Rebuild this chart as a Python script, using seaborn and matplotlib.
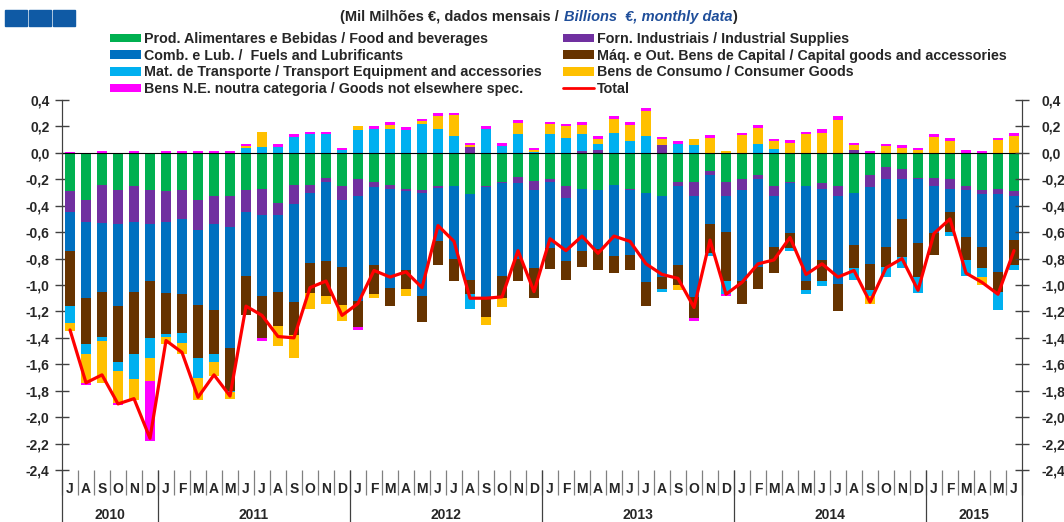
import numpy as np
import matplotlib.pyplot as plt
import seaborn as sns
from matplotlib.patches import Rectangle
from matplotlib.lines import Line2D
from matplotlib.ticker import FuncFormatter, MultipleLocator

# monthly labels, Jul 2010 .. Jun 2015
months = list("JASOND") + list("JFMAMJJASOND") * 4 + list("JFMAMJ")
years = ["2010", "2011", "2012", "2013", "2014", "2015"]
year_centers = [2.5, 11.5, 23.5, 35.5, 47.5, 56.5]
year_bounds = [-0.5, 5.5, 17.5, 29.5, 41.5, 53.5, 59.5]

# balance by product group (billions EUR)
food = [-0.29, -0.36, -0.24, -0.28, -0.25, -0.28, -0.29, -0.28, -0.36, -0.33, -0.33, -0.28,
        -0.27, -0.38, -0.24, -0.24, -0.19, -0.25, -0.20, -0.22, -0.24, -0.27, -0.28, -0.25,
        -0.25, -0.31, -0.25, -0.22, -0.18, -0.21, -0.20, -0.25, -0.27, -0.28, -0.24, -0.27,
        -0.30, -0.33, -0.22, -0.22, -0.14, -0.22, -0.20, -0.17, -0.25, -0.22, -0.25, -0.23,
        -0.25, -0.30, -0.17, -0.11, -0.12, -0.19, -0.19, -0.20, -0.25, -0.28, -0.27, -0.29]
industrial = [-0.16, -0.16, -0.29, -0.26, -0.27, -0.26, -0.23, -0.22, -0.22, -0.21, -0.23, -0.17,
              -0.20, -0.09, -0.15, -0.06, -0.03, -0.11, -0.13, -0.04, -0.03, -0.02, -0.02, -0.015,
              0.0, 0.045, -0.01, -0.01, -0.05, -0.07, -0.02, -0.09, 0.015, 0.02, 0.0, -0.01,
              0.0, 0.06, -0.03, -0.11, -0.03, -0.11, -0.08, -0.03, -0.08, -0.01, 0.0, -0.04,
              -0.08, 0.02, -0.09, -0.09, -0.08, -0.01, -0.06, -0.07, -0.03, -0.03, -0.04, -0.04]
fuels = [-0.29, -0.58, -0.52, -0.62, -0.53, -0.43, -0.54, -0.57, -0.57, -0.65, -0.92, -0.48,
         -0.61, -0.58, -0.74, -0.53, -0.60, -0.50, -0.79, -0.59, -0.75, -0.60, -0.78, -0.40,
         -0.55, -0.65, -0.83, -0.70, -0.57, -0.59, -0.50, -0.48, -0.47, -0.45, -0.54, -0.49,
         -0.68, -0.61, -0.60, -0.76, -0.37, -0.27, -0.69, -0.66, -0.38, -0.38, -0.72, -0.54,
         -0.66, -0.40, -0.58, -0.51, -0.30, -0.48, -0.36, -0.18, -0.36, -0.40, -0.59, -0.33]
capital = [-0.42, -0.35, -0.34, -0.42, -0.47, -0.43, -0.31, -0.29, -0.40, -0.33, -0.32, -0.30,
           -0.32, -0.26, -0.25, -0.23, -0.26, -0.29, -0.20, -0.22, -0.14, -0.14, -0.20, -0.18,
           -0.17, -0.11, -0.15, -0.17, -0.17, -0.23, -0.16, -0.14, -0.12, -0.16, -0.13, -0.12,
           -0.18, -0.09, -0.15, -0.16, -0.22, -0.37, -0.17, -0.17, -0.20, -0.11, -0.07, -0.16,
           -0.21, -0.17, -0.20, -0.15, -0.29, -0.26, -0.16, -0.15, -0.17, -0.16, -0.15, -0.19]
transport = [-0.13, -0.07, -0.03, -0.07, -0.19, -0.15, -0.02, -0.08, -0.15, -0.06, -0.01, 0.033,
             0.045, 0.045, 0.12, 0.14, 0.14, 0.02, 0.17, 0.18, 0.18, 0.17, 0.22, 0.18,
             0.13, -0.11, 0.18, 0.053, 0.146, 0.01, 0.146, 0.116, 0.13, 0.05, 0.153, 0.09,
             0.128, -0.02, 0.07, 0.058, -0.02, -0.10, 0.0, 0.065, 0.028, -0.025, -0.027, -0.04,
             0.0, -0.09, -0.04, -0.08, -0.08, -0.12, 0.0, -0.03, -0.12, -0.07, -0.14, -0.04]
consumer = [-0.06, -0.22, -0.32, -0.24, -0.16, -0.18, -0.06, -0.08, -0.17, -0.11, -0.05, 0.017,
            0.115, -0.15, -0.17, -0.12, -0.06, -0.12, 0.03, -0.03, 0.03, -0.05, 0.02, 0.10,
            0.155, 0.013, -0.06, -0.07, 0.08, 0.015, 0.07, 0.084, 0.065, 0.038, 0.10, 0.12,
            0.19, 0.043, -0.04, 0.045, 0.11, 0.015, 0.133, 0.12, 0.062, 0.078, 0.14, 0.153,
            0.246, 0.038, -0.06, 0.053, 0.04, 0.023, 0.123, 0.09, 0.0, -0.06, 0.096, 0.128]
other = [0.01, -0.02, 0.015, -0.02, 0.015, -0.45, 0.015, 0.015, 0.015, 0.015, 0.015, 0.02,
         -0.02, 0.025, 0.02, 0.02, 0.02, 0.02, -0.02, 0.02, 0.02, 0.026, 0.02, 0.02,
         0.02, 0.02, 0.02, 0.02, 0.02, 0.015, 0.02, 0.02, 0.02, 0.02, 0.023, 0.02,
         0.02, 0.02, 0.02, -0.02, 0.023, -0.017, 0.017, 0.024, 0.018, 0.02, 0.02, 0.025,
         0.03, 0.015, 0.015, 0.017, 0.02, 0.017, 0.017, 0.02, 0.025, 0.015, 0.02, 0.02]
total = [-1.34, -1.74, -1.68, -1.90, -1.86, -2.16, -1.42, -1.51, -1.85, -1.68, -1.84, -1.16,
         -1.23, -1.39, -1.40, -1.02, -0.97, -1.23, -1.14, -0.89, -0.94, -0.90, -1.02, -0.55,
         -0.67, -1.10, -1.10, -1.09, -0.74, -1.05, -0.65, -0.74, -0.63, -0.76, -0.63, -0.67,
         -0.84, -0.92, -0.95, -1.17, -0.66, -1.07, -0.98, -0.84, -0.81, -0.64, -0.92, -0.84,
         -0.94, -0.89, -1.13, -0.87, -0.80, -1.04, -0.61, -0.50, -0.91, -0.98, -1.07, -0.74]

labels = ["Prod. Alimentares e Bebidas / Food and beverages",
          "Forn. Industriais / Industrial Supplies",
          "Comb. e Lub. /  Fuels and Lubrificants",
          "Máq. e Out. Bens de Capital / Capital goods and accessories",
          "Mat. de Transporte / Transport Equipment and accessories",
          "Bens de Consumo / Consumer Goods",
          "Bens N.E. noutra categoria / Goods not elsewhere spec."]
colors = ["#00B050", "#7030A0", "#0070C0", "#663300", "#00B0F0", "#FFC000", "#FF00FF"]
series = [food, industrial, fuels, capital, transport, consumer, other]

sns.set_style("white")
plt.rcParams['font.family'] = ['Liberation Sans', 'DejaVu Sans']

W, H = 1064, 522
fig = plt.figure(figsize=(W / 100, H / 100), dpi=100)
ax = fig.add_axes([62 / W, 52 / H, 960 / W, 370 / H])

x = np.arange(len(months))
pos = np.zeros(len(x))
neg = np.zeros(len(x))
handles = []
for vals, col, lab in zip(series, colors, labels):
    v = np.array(vals)
    base = np.where(v >= 0, pos, neg)
    b = ax.bar(x, v, width=0.6, bottom=base, color=col, linewidth=0, label=lab, zorder=2)
    handles.append(b)
    pos += np.clip(v, 0, None)
    neg += np.clip(v, None, 0)

sns.lineplot(x=x, y=total, ax=ax, color="#FF0000", linewidth=2.3, legend=False, zorder=4)

ax.set_xlim(-0.5, 59.5)
ax.set_ylim(-2.4, 0.4)

fmt = FuncFormatter(lambda v, p: f"{v:.1f}".replace(".", ",").replace("-0,0", "0,0"))
ax.yaxis.set_major_locator(MultipleLocator(0.2))
ax.yaxis.set_major_formatter(fmt)
ax.tick_params(axis="y", direction="inout", length=10, width=1, color="#404040",
               labelsize=10, pad=4, left=True)
for t in ax.get_yticklabels():
    t.set_fontweight("bold")

ax2 = ax.twinx()
ax2.set_ylim(-2.4, 0.4)
ax2.yaxis.set_major_locator(MultipleLocator(0.2))
ax2.yaxis.set_major_formatter(fmt)
ax2.tick_params(axis="y", direction="inout", length=10, width=1, color="#404040",
                labelsize=10, pad=9, right=True)
for t in ax2.get_yticklabels():
    t.set_fontweight("bold")

for a in (ax, ax2):
    a.spines["top"].set_visible(False)
    a.spines["left"].set_color("#404040")
    a.spines["right"].set_color("#404040")
    a.grid(False)
ax2.spines["bottom"].set_visible(False)

# category axis crossing at zero
ax.spines["bottom"].set_position(("data", 0))
ax.spines["bottom"].set_color("black")
ax.spines["bottom"].set_zorder(3)
ax.set_xticks(np.arange(-0.5, 60, 1))
ax.tick_params(axis="x", direction="out", length=4, width=1, color="black", labelbottom=False)

# month / year labels below the plot
trans = ax.get_xaxis_transform()
for i, m in enumerate(months):
    ax.text(i, -0.0514, m, transform=trans, ha="center", va="center",
            fontsize=10, fontweight="bold")
for c, yr in zip(year_centers, years):
    ax.text(c, -0.122, yr, transform=trans, ha="center", va="center",
            fontsize=10, fontweight="bold")
ax.vlines(np.arange(-0.5, 60, 1), -0.0676, 0, transform=trans, colors="#808080",
          linewidth=0.9, clip_on=False)
ax.vlines(year_bounds, -0.15, 0, transform=trans, colors="#404040",
          linewidth=0.9, clip_on=False)

# legends in two columns
leg_kw = dict(frameon=False, handlelength=2.2, handleheight=0.56,
              handletextpad=0.2, labelspacing=0.19, borderpad=0, borderaxespad=0,
              prop={"weight": "bold", "size": 10.25})
fig.legend([handles[0], handles[2], handles[4], handles[6]],
           [labels[0], labels[2], labels[4], labels[6]],
           loc="upper left", bbox_to_anchor=(110 / W, 1 - 32 / H), **leg_kw)
fig.legend([handles[1], handles[3], handles[5], Line2D([], [], color="#FF0000", lw=2)],
           [labels[1], labels[3], labels[5], "Total"],
           loc="upper left", bbox_to_anchor=(563 / W, 1 - 32 / H), **leg_kw)

# header squares
for x0 in (5, 29, 53):
    fig.patches.append(Rectangle((x0 / W, 1 - 26 / H), 22 / W, 16 / H,
                                 transform=fig.transFigure, color="#0F5AA5"))

# title in two colours
ty = 1 - 17 / H
t1 = fig.text(340 / W, ty, "(Mil Milhões €, dados mensais /", fontsize=10.5,
              fontweight="bold", va="center")
fig.canvas.draw()
r = fig.canvas.get_renderer()
bb = t1.get_window_extent(r)
t2 = fig.text((bb.x1 + 5) / W, ty, "Billions  €, monthly data", fontsize=10.5,
              fontweight="bold", style="italic", color="#1F4E9A", va="center")
bb2 = t2.get_window_extent(r)
fig.text(bb2.x1 / W, ty, ")", fontsize=10.5, fontweight="bold", va="center")

fig.savefig("out.png", dpi=100)
